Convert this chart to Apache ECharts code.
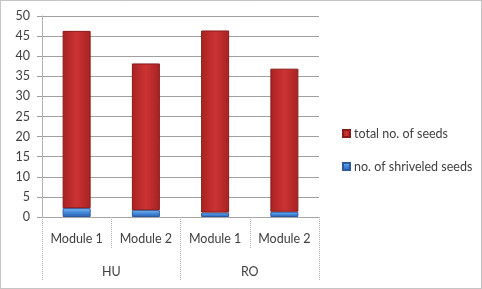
<!DOCTYPE html>
<html><head><meta charset="utf-8">
<script src="https://cdn.jsdelivr.net/npm/echarts@6/dist/echarts.min.js"></script>
<style>html,body{margin:0;padding:0;background:#fff}#c{width:482px;height:289px}</style>
</head><body><div id="c"></div>
<script>
const modules = ['Module 1', 'Module 2', 'Module 1', 'Module 2'];
const groups = ['HU', 'RO'];
const shriveled = [2.2, 1.7, 1.1, 1.3];
const totalSegment = [44.1, 36.5, 45.3, 35.6];
const yTicks = [0, 5, 10, 15, 20, 25, 30, 35, 40, 45, 50];

const font = 'Lato, "Open Sans", sans-serif';
const chart = echarts.init(document.getElementById('c'));
const redGrad = new echarts.graphic.LinearGradient(0, 0, 1, 0, [
  {offset: 0, color: '#a82222'}, {offset: 0.5, color: '#cc3333'}, {offset: 1, color: '#a82222'}]);
const blueGrad = new echarts.graphic.LinearGradient(0, 0, 0, 1, [
  {offset: 0, color: '#8cc6ff'}, {offset: 0.4, color: '#4a90e0'}, {offset: 1, color: '#2a5fb0'}]);
chart.setOption({
  animation: false,
  backgroundColor: '#ffffff',
  graphic: [{type: 'rect', shape: {x: 0.5, y: 0.5, width: 481, height: 288},
    style: {fill: 'none', stroke: '#8a8a8a', lineWidth: 1, lineDash: [1, 1]}}],
  grid: {left: 42, right: 163, top: 16, bottom: 72},
  legend: {
    orient: 'vertical', left: 337, top: 121, itemWidth: 7, itemHeight: 7, itemGap: 18,
    icon: 'rect',
    data: ['total no. of seeds', 'no. of shriveled seeds'],
    textStyle: {fontFamily: font, fontSize: 12.5, color: '#404040', lineHeight: 15, padding: [0, 0, 0, -1]}
  },
  xAxis: [{
    type: 'category', data: modules, position: 'bottom',
    axisLine: {lineStyle: {color: '#a6a6a6'}},
    axisTick: {show: true, length: 32, interval: 0, lineStyle: {color: '#b0b0b0', type: [1, 1]}},
    axisLabel: {interval: 0, margin: 15, fontFamily: font, fontSize: 12.5, color: '#404040'}
  }, {
    type: 'category', data: groups, position: 'bottom',
    axisLine: {show: false},
    axisTick: {show: true, length: 64, interval: 0, lineStyle: {color: '#b0b0b0', type: [1, 1]}},
    axisLabel: {interval: 0, margin: 48, fontFamily: font, fontSize: 12.5, color: '#404040'}
  }],
  yAxis: {
    type: 'value', min: yTicks[0], max: yTicks[yTicks.length - 1], interval: 5,
    axisLine: {show: true, lineStyle: {color: '#b0b0b0'}},
    axisTick: {show: true, length: 5, lineStyle: {color: '#a0a0a0'}},
    axisLabel: {margin: 12, fontFamily: font, fontSize: 12.5, color: '#404040'},
    splitLine: {lineStyle: {color: '#a0a0a0'}}
  },
  series: [{
    name: 'no. of shriveled seeds', type: 'bar', stack: 's', data: shriveled, barWidth: 28,
    xAxisIndex: 0,
    itemStyle: {color: blueGrad, borderColor: '#2c5aa0', borderWidth: 1}
  }, {
    name: 'total no. of seeds', type: 'bar', stack: 's', data: totalSegment, barWidth: 28,
    xAxisIndex: 0,
    itemStyle: {color: redGrad, borderColor: '#8b1a1a', borderWidth: 1}
  }]
});
</script></body></html>
